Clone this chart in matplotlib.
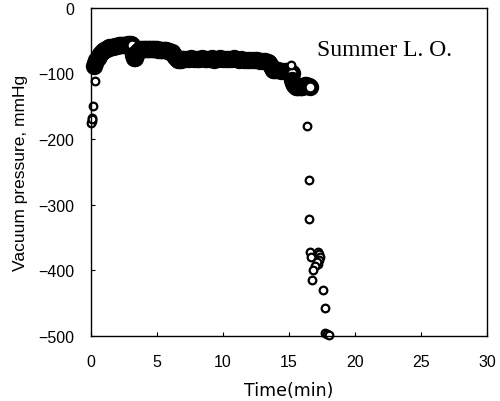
import matplotlib
matplotlib.use("Agg")
import matplotlib.pyplot as plt

# Dense recorded trace (time in min, vacuum pressure in mmHg)
time_dense = [0.2, 0.3, 0.4, 0.5, 0.6, 0.7, 0.8, 0.9, 1.0, 1.1, 1.2, 1.3, 1.4, 1.5, 1.6,
              1.7, 1.8, 1.9, 2.0, 2.1, 2.2, 2.3, 2.4, 2.5, 2.6, 2.7, 2.8, 2.9, 3.0, 3.1,
              3.2, 3.25, 3.3, 3.4, 3.5, 3.6, 3.7, 3.8, 3.9, 4.0, 4.1, 4.2, 4.3, 4.4, 4.5,
              4.6, 4.7, 4.8, 4.9, 5.0, 5.1, 5.2, 5.3, 5.4, 5.5, 5.6, 5.7, 5.8, 5.9, 6.0,
              6.1, 6.2, 6.3, 6.4, 6.5, 6.6, 6.7, 6.8, 6.9, 7.0, 7.2, 7.4, 7.6, 7.8, 8.0,
              8.2, 8.4, 8.6, 8.8, 9.0, 9.2, 9.3, 9.4, 9.6, 9.8, 10.0, 10.2, 10.4, 10.6, 10.8,
              11.0, 11.2, 11.4, 11.6, 11.8, 12.0, 12.2, 12.4, 12.6, 12.8, 13.0, 13.2, 13.4,
              13.5, 13.6, 13.7, 13.8, 13.9, 14.0, 14.2, 14.4, 14.6, 14.8, 14.9, 15.0,
              15.2, 15.25, 15.3, 15.4, 15.5, 15.6, 15.7, 15.8, 15.9, 16.0, 16.1, 16.2,
              16.3, 16.4, 16.5, 16.6]
pressure_dense = [-88, -84, -80, -76, -73, -70, -68, -66, -64, -63, -62, -61, -60, -60, -59,
                  -59, -58, -58, -58, -57, -57, -57, -57, -56, -56, -56, -55, -55, -55, -56,
                  -72, -76, -77, -72, -67, -65, -64, -63, -63, -62, -62, -62, -62, -62, -62,
                  -63, -63, -63, -63, -63, -64, -64, -64, -64, -64, -65, -65, -66, -66, -67,
                  -68, -70, -72, -75, -78, -79, -79, -79, -78, -78, -78, -78, -77, -78, -78,
                  -78, -77, -78, -78, -78, -77, -79, -78, -78, -77, -78, -78, -78, -78, -77,
                  -78, -79, -78, -79, -79, -80, -80, -79, -80, -81, -81, -81, -82,
                  -84, -88, -92, -94, -94, -95, -95, -96, -96, -96, -96, -96,
                  -100, -110, -115, -118, -120, -121, -121, -120, -120, -120, -119, -118,
                  -118, -119, -119, -120]

# Sparse points at the start and during the final drop
time_sparse = [0.05, 0.1, 0.15, 0.3, 0.0, 0.05, 15.15,
               16.4, 16.5, 16.5, 16.6, 16.7, 17.2, 17.3, 17.35, 17.3, 17.2, 17.1, 17.0,
               16.85, 16.75, 17.6, 17.7, 17.7, 17.9, 18.0]
pressure_sparse = [-172, -168, -149, -111, -175, -170, -87,
                   -180, -262, -322, -372, -380, -372, -375, -380, -385, -390, -388, -393,
                   -400, -415, -430, -457, -495, -497, -498]

label_text = "Summer L. O."
xticks = [0, 5, 10, 15, 20, 25, 30]
yticks = [0, -100, -200, -300, -400, -500]

plt.rcParams['font.family'] = ['Liberation Sans', 'DejaVu Sans']

fig = plt.figure(figsize=(5.0, 4.02), dpi=100)
ax = fig.add_axes([0.182, 0.162, 0.792, 0.816])

ax.plot(time_dense, pressure_dense, linestyle='none', marker='o', markersize=9,
        markerfacecolor='white', markeredgecolor='black', markeredgewidth=3.5, clip_on=False)
ax.plot(time_sparse, pressure_sparse, linestyle='none', marker='o', markersize=5.5,
        markerfacecolor='white', markeredgecolor='black', markeredgewidth=1.6, clip_on=False)

ax.set_xlim(0, 30)
ax.set_ylim(-500, 0)
ax.set_xticks(xticks)
ax.set_yticks(yticks)
ax.set_yticklabels(["0", "\u2212100", "\u2212200", "\u2212300", "\u2212400", "\u2212500"])
ax.tick_params(direction='in', length=3, width=0.8, labelsize=11.5)
ax.tick_params(axis='x', pad=13)
ax.tick_params(axis='y', pad=12)
for s in ax.spines.values():
    s.set_linewidth(1.0)

ax.set_xlabel("Time(min)", fontsize=12.5, family='DejaVu Sans', labelpad=9)
ax.set_ylabel("Vacuum pressure, mmHg", fontsize=12.5, labelpad=7)
ax.text(17.1, -64, label_text, fontsize=17, family='Liberation Serif', va='center', ha='left')

fig.savefig("out.png", dpi=100)
